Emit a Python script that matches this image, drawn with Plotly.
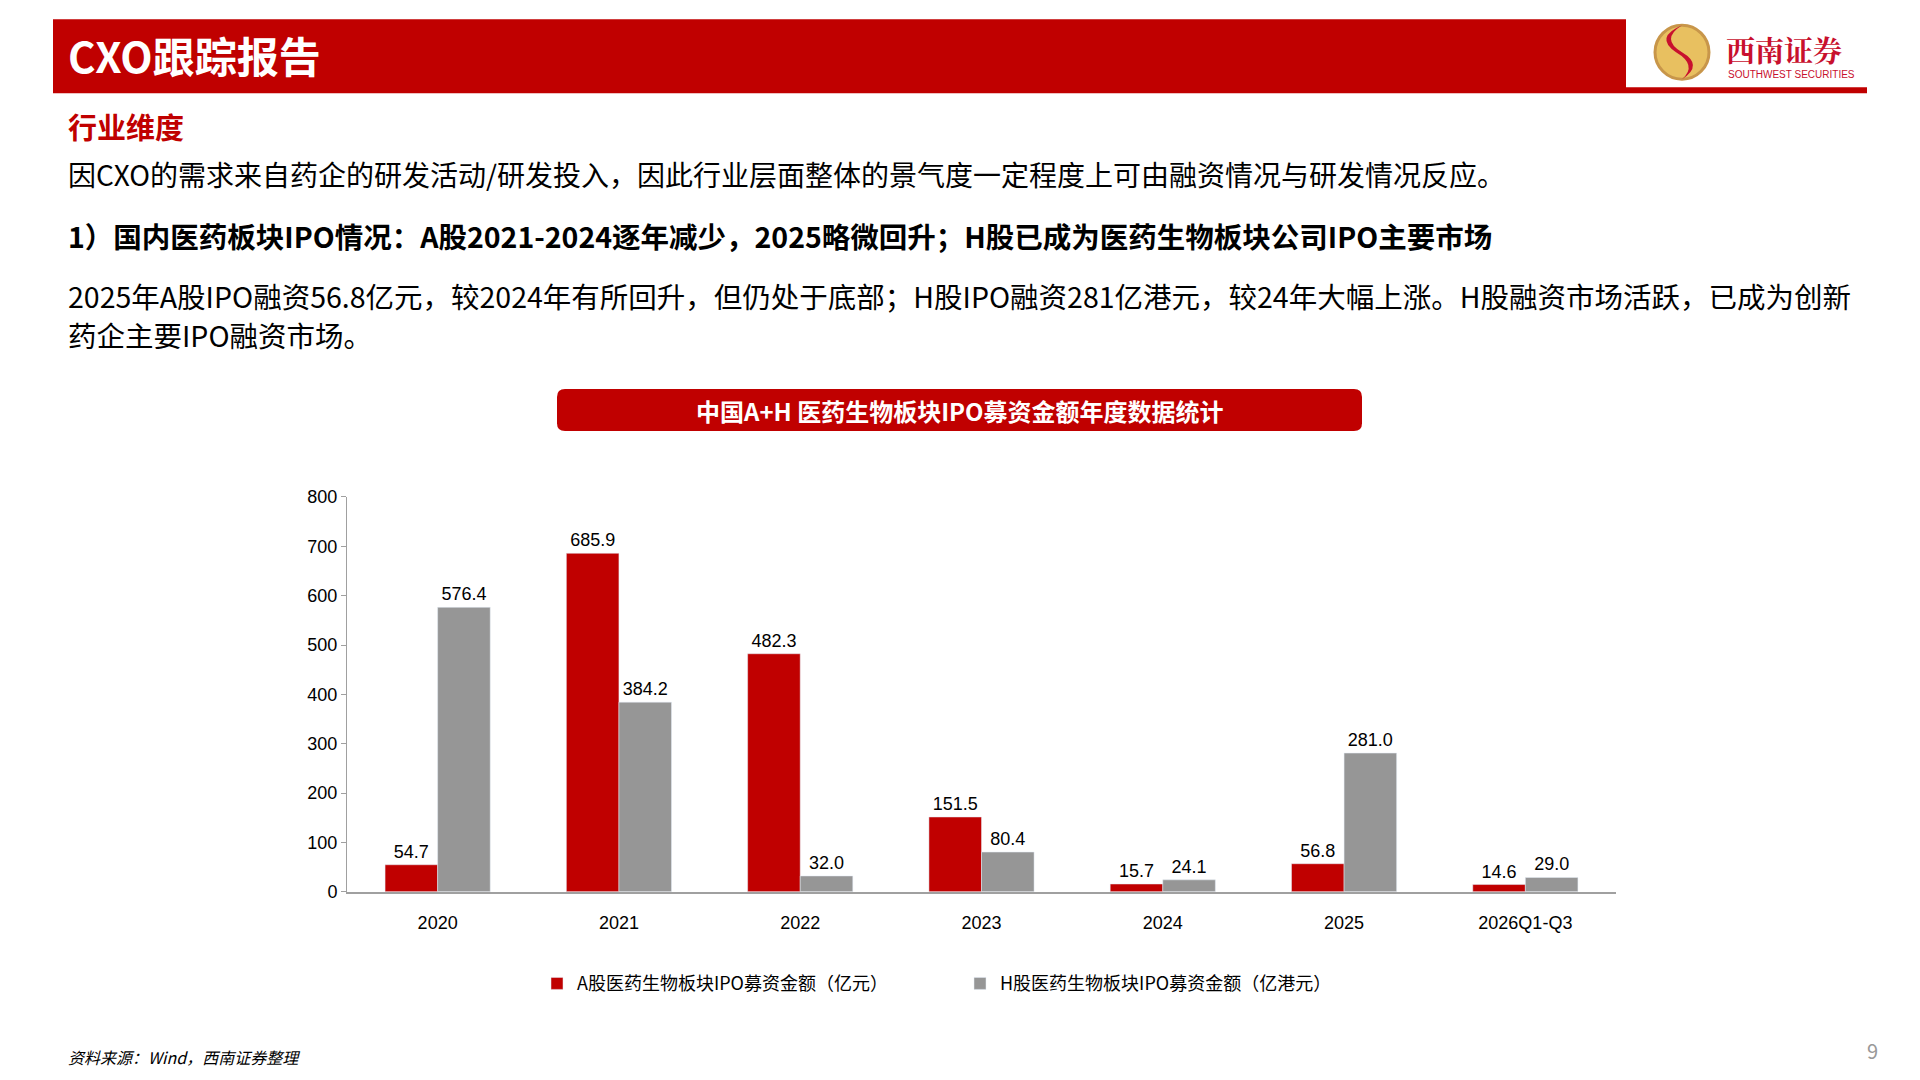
import plotly.graph_objects as go

categories = ["2020", "2021", "2022", "2023", "2024", "2025", "2026Q1-Q3"]
a_share = [54.7, 685.9, 482.3, 151.5, 15.7, 56.8, 14.6]
h_share = [576.4, 384.2, 32.0, 80.4, 24.1, 281.0, 29.0]
y_ticks = [0, 100, 200, 300, 400, 500, 600, 700, 800]

RED = "#C00000"
GRAY = "#969696"
F = "Noto Sans CJK SC"
W, H = 1904, 1064

def px(x): return (x - 8) / W
def py(y):
    y2 = 18 + (0.8167 * (y - 18) - 7) / 0.8018
    return 1 - (y2 - 8) / H

fig = go.Figure()
fig.add_bar(x=categories, y=a_share, name="A股医药生物板块IPO募资金额（亿元）", marker_color=RED,
            text=[f"{v:.1f}" for v in a_share], textposition="outside",
            textfont=dict(size=18, color="black", family="Arial"), cliponaxis=False)
fig.add_bar(x=categories, y=h_share, name="H股医药生物板块IPO募资金额（亿港元）", marker_color=GRAY,
            text=[f"{v:.1f}" for v in h_share], textposition="outside",
            textfont=dict(size=18, color="black", family="Arial"), cliponaxis=False)

bx0, bx1, by0, by1 = px(557), px(1362), py(430), py(388)
rx, ry = 8 / W, 8 / H
box_path = (f"M {bx0+rx} {by0} L {bx1-rx} {by0} Q {bx1} {by0} {bx1} {by0+ry} L {bx1} {by1-ry} "
            f"Q {bx1} {by1} {bx1-rx} {by1} L {bx0+rx} {by1} Q {bx0} {by1} {bx0} {by1-ry} "
            f"L {bx0} {by0+ry} Q {bx0} {by0} {bx0+rx} {by0} Z")

shapes = [
    dict(type="rect", xref="paper", yref="paper", x0=px(53), x1=px(1626), y0=py(92), y1=py(18),
         fillcolor=RED, line_width=0, layer="below"),
    dict(type="rect", xref="paper", yref="paper", x0=px(1626), x1=px(1867), y0=py(92), y1=py(86),
         fillcolor=RED, line_width=0, layer="below"),
    dict(type="path", xref="paper", yref="paper", path=box_path,
         fillcolor=RED, line_width=0, layer="below"),
    dict(type="circle", xref="paper", yref="paper", x0=px(1655), x1=px(1709), y0=py(78), y1=py(24),
         fillcolor="#E8C060", line=dict(color="#C8964A", width=3), layer="below"),
    dict(type="path", xref="paper", yref="paper",
         path=f"M {px(1682)} {py(24)} Q {px(1660)} {py(38)} {px(1682)} {py(51)} Q {px(1704)} {py(64)} {px(1682)} {py(78)} "
              f"Q {px(1698)} {py(64)} {px(1676)} {py(51)} Q {px(1654)} {py(36)} {px(1682)} {py(24)} Z",
         fillcolor="#C8102E", line_width=0, layer="below"),
]

ann = [
    dict(text="<b>CXO跟踪报告</b>", x=px(66), y=py(53), xanchor="left", yanchor="middle",
         font=dict(size=42, color="white", family=F)),
    dict(text="<b>西南证券</b>", x=px(1724), y=py(48), xanchor="left", yanchor="middle",
         font=dict(size=29, color="#C8102E", family="Noto Serif CJK SC, " + F)),
    dict(text="SOUTHWEST SECURITIES", x=px(1726), y=py(73), xanchor="left", yanchor="middle",
         font=dict(size=10, color="#C8102E", family="Arial")),
    dict(text="<b>行业维度</b>", x=px(66), y=py(125), xanchor="left", yanchor="middle",
         font=dict(size=29, color=RED, family=F)),
    dict(text="因CXO的需求来自药企的研发活动/研发投入，因此行业层面整体的景气度一定程度上可由融资情况与研发情况反应。",
         x=px(66), y=py(173), xanchor="left", yanchor="middle", font=dict(size=28, color="black", family=F)),
    dict(text="<b>1）国内医药板块IPO情况：A股2021-2024逐年减少，2025略微回升；H股已成为医药生物板块公司IPO主要市场</b>",
         x=px(66), y=py(234), xanchor="left", yanchor="middle", font=dict(size=28.5, color="black", family=F)),
    dict(text="2025年A股IPO融资56.8亿元，较2024年有所回升，但仍处于底部；H股IPO融资281亿港元，较24年大幅上涨。H股融资市场活跃，已成为创新",
         x=px(66), y=py(294), xanchor="left", yanchor="middle", font=dict(size=28.5, color="black", family=F)),
    dict(text="药企主要IPO融资市场。",
         x=px(66), y=py(333), xanchor="left", yanchor="middle", font=dict(size=28.5, color="black", family=F)),
    dict(text="<b>中国A+H 医药生物板块IPO募资金额年度数据统计</b>", x=px(960), y=py(409), xanchor="center", yanchor="middle",
         font=dict(size=24, color="white", family=F)),
    dict(text="<i>资料来源：Wind，西南证券整理</i>", x=px(66), y=py(1056), xanchor="left", yanchor="middle",
         font=dict(size=16, color="black", family=F)),
    dict(text="9", x=px(1872), y=py(1050), xanchor="center", yanchor="middle",
         font=dict(size=20, color="#999999", family=F)),
]
for a in ann:
    a.update(xref="paper", yref="paper", showarrow=False)

fig.update_layout(
    width=W, height=H, paper_bgcolor="white", plot_bgcolor="white",
    margin=dict(l=0, r=0, t=0, b=0), barmode="group", bargap=0.42, bargroupgap=0,
    shapes=shapes, annotations=ann,
    xaxis=dict(domain=[px(347), px(1616)], showline=True, linecolor="#A0A0A0", linewidth=1.5,
               ticks="outside", ticklen=14, tickcolor="rgba(0,0,0,0)",
               tickfont=dict(size=18, color="black", family="Arial")),
    yaxis=dict(domain=[py(891), py(496)], range=[0, 800], tickvals=y_ticks, showgrid=False,
               showline=True, linecolor="#A0A0A0", ticks="outside", ticklen=5, tickcolor="#A0A0A0",
               tickfont=dict(size=18, color="black", family="Arial"), zeroline=False),
    legend=dict(orientation="h", x=0.5, xanchor="center", y=py(983), yanchor="middle",
                font=dict(size=18, color="black", family=F), itemwidth=30, traceorder="normal",
                entrywidth=378),
    showlegend=True,
)
fig.write_html("out.html")
